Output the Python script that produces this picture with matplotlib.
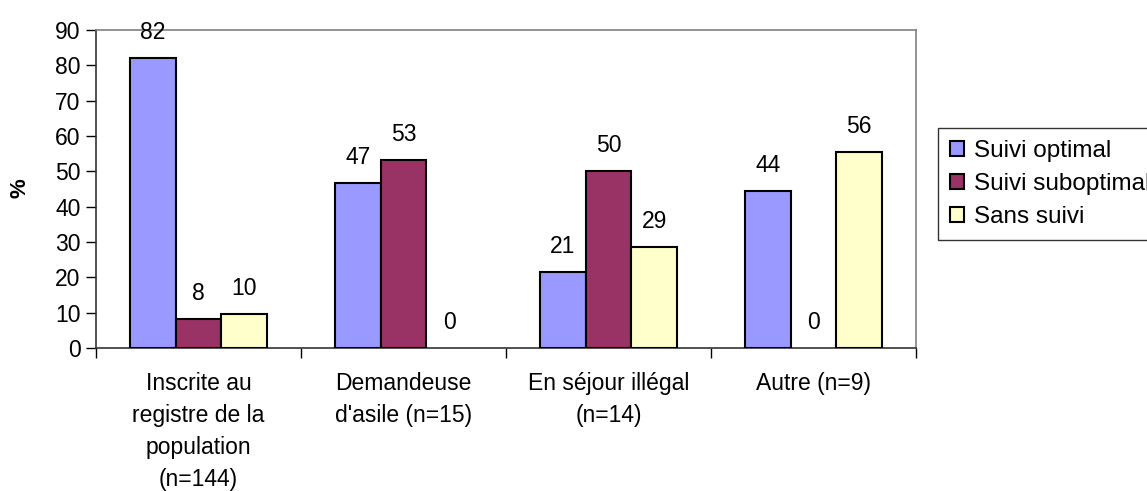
import matplotlib
matplotlib.use("Agg")
import matplotlib.pyplot as plt
import numpy as np

plt.rcParams['font.family'] = ['Liberation Sans', 'DejaVu Sans']

categories = ["Inscrite au\nregistre de la\npopulation\n(n=144)",
              "Demandeuse\nd'asile (n=15)",
              "En séjour illégal\n(n=14)",
              "Autre (n=9)"]
series_names = ["Suivi optimal", "Suivi suboptimal", "Sans suivi"]
optimal = [82.0, 46.7, 21.4, 44.4]
suboptimal = [8.3, 53.3, 50.0, 0.0]
sans = [9.7, 0.0, 28.6, 55.6]
labels_optimal = ["82", "47", "21", "44"]
labels_suboptimal = ["8", "53", "50", "0"]
labels_sans = ["10", "0", "29", "56"]
yticks = [0, 10, 20, 30, 40, 50, 60, 70, 80, 90]

colors = ["#9999FF", "#993366", "#FFFFCC"]
FS = 16.5

fig = plt.figure(figsize=(11.47, 4.91), dpi=100)
ax = fig.add_axes([96/1147, 1-348/491, (916-96)/1147, (348-30)/491])

x = np.arange(len(categories))
w = 0.223
all_vals = [optimal, suboptimal, sans]
all_labels = [labels_optimal, labels_suboptimal, labels_sans]
for i, (vals, labs, c, name) in enumerate(zip(all_vals, all_labels, colors, series_names)):
    pos = x + (i - 1) * w
    edges = ['black' if v > 0 else 'none' for v in vals]
    ax.bar(pos, vals, width=w, color=c, edgecolor=edges, linewidth=1.5, label=name, zorder=3)
    for p, v, l in zip(pos, vals, labs):
        ax.annotate(l, (p, v), xytext=(0, 10), textcoords='offset points',
                    ha='center', va='bottom', fontsize=FS)

ax.set_xlim(-0.5, len(categories) - 0.5)
ax.set_ylim(0, 90)
ax.set_yticks(yticks)
ax.tick_params(axis='y', labelsize=FS, length=7, width=1, direction='out', pad=4)

ax.set_xticks(np.arange(len(categories) + 1) - 0.5)
ax.set_xticklabels([])
ax.tick_params(axis='x', which='major', length=7, width=1, direction='out')
ax.set_xticks(x, minor=True)
ax.set_xticklabels(categories, minor=True, fontsize=FS, linespacing=1.5)
ax.tick_params(axis='x', which='minor', length=0, pad=17)

for s in ['top', 'right']:
    ax.spines[s].set_color('#808080')
    ax.spines[s].set_linewidth(1.2)
for s in ['left', 'bottom']:
    ax.spines[s].set_color('#333333')
    ax.spines[s].set_linewidth(1.2)

fig.text(20/1147, 1-188/491, "%", rotation=90, ha='center', va='center', fontsize=16, fontweight='bold')

handles, _ = ax.get_legend_handles_labels()
leg = fig.legend(handles, series_names, loc='upper left', bbox_to_anchor=(938/1147, 1-128/491), fontsize=17.5,
                 frameon=True, fancybox=False, edgecolor='black', handlelength=0.57, handleheight=0.57,
                 handletextpad=0.4, labelspacing=0.45, borderpad=0.5, borderaxespad=0)
leg.get_frame().set_linewidth(1.0)
for h in leg.legend_handles:
    h.set_edgecolor('black')

fig.savefig("out.png", dpi=100)
